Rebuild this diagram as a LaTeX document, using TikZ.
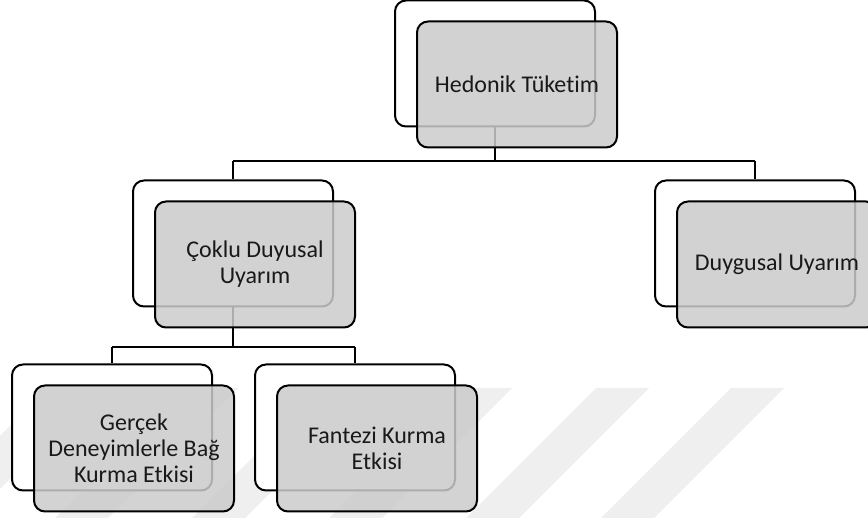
\documentclass[tikz,border=0pt]{standalone}
\usepackage{fontspec}
\setmainfont{Carlito}[Ligatures=NoCommon]
\definecolor{boxgray}{HTML}{CBCBCB}
\definecolor{stripegray}{HTML}{EFEFEF}
\begin{document}
\begin{tikzpicture}[x=1pt,y=-1pt,
  backbox/.style={draw=black, line width=2pt, fill=white, rounded corners=11pt,
    minimum width=200pt, minimum height=126pt, inner sep=0pt},
  frontbox/.style={draw=black, line width=2pt, fill=boxgray, fill opacity=0.85,
    text opacity=1, rounded corners=11pt, minimum width=200pt, minimum height=126pt,
    inner sep=0pt, align=center, text=black!90,
    font=\fontsize{24}{26}\selectfont},
  conn/.style={line width=2.6pt},
  stripe/.style={fill=stripegray}]
\useasboundingbox (0,0) rectangle (868,518);
% watermark stripes
\foreach \sx in {48,185,322,459,596,731}{
  \fill[stripe] (\sx,388) -- (\sx+53,388) -- (\sx-77,518) -- (\sx-130,518) -- cycle;
}
% back boxes
\node[backbox] (hb) at (495,63.5) {};
\node[backbox] (cb) at (233,243.5) {};
\node[backbox] (db) at (755,243.5) {};
\node[backbox] (gb) at (112,427.5) {};
\node[backbox] (fb) at (355,427.5) {};
% connectors
\coordinate (j1) at (495,161);
\coordinate (j1l) at (233,161);
\coordinate (j1r) at (755,161);
\coordinate (j2) at (233,347);
\coordinate (j2l) at (112,347);
\coordinate (j2r) at (355,347);
\draw[conn] (hb.south) -- (j1);
\draw[conn] (j1l) -- (j1r);
\draw[conn] (j1l) -- (cb.north);
\draw[conn] (j1r) -- (db.north);
\draw[conn] (cb.south) -- (j2);
\draw[conn] (j2l) -- (j2r);
\draw[conn] (j2l) -- (gb.north);
\draw[conn] (j2r) -- (fb.north);
% front boxes
\node[frontbox] (hf) at (517,84.5) {Hedonik Tüketim};
\node[frontbox] (cf) at (255,264.5) {Çoklu Duyusal\\Uyarım};
\node[frontbox] (df) at (777,264.5) {Duygusal Uyarım};
\node[frontbox] (gf) at (134,448.5) {Gerçek\\Deneyimlerle Bağ\\Kurma Etkisi};
\node[frontbox] (ff) at (377,448.5) {Fantezi Kurma\\Etkisi};
\end{tikzpicture}
\end{document}
